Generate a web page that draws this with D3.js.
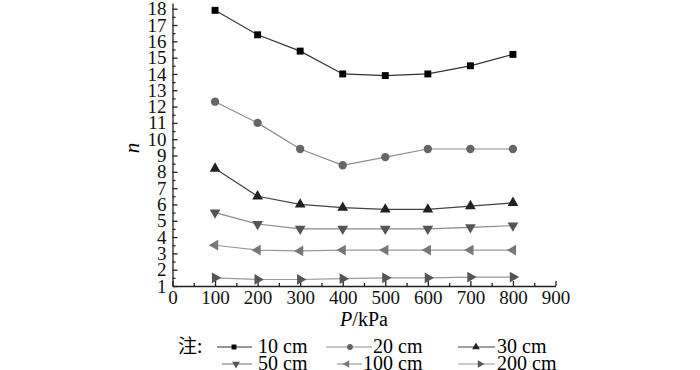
<!DOCTYPE html>
<html>
<head>
<meta charset="utf-8">
<script src="https://cdn.jsdelivr.net/npm/d3@7"></script>
<style>
  body { margin: 0; background: #fff; }
  svg text { font-family: "Liberation Serif", "DejaVu Serif", serif; }
  .axis path, .axis line { stroke: #222; stroke-width: 1.3; }
  .axis text { font-size: 19px; fill: #111; }
</style>
</head>
<body>
<svg width="700" height="370"></svg>
<script>
// pressure values, kPa
var pressure = [100, 200, 300, 400, 500, 600, 700, 800];

var depths = ["10 cm", "20 cm", "30 cm", "50 cm", "100 cm", "200 cm"];

var n10  = [17.9, 16.4, 15.4, 14.0, 13.9, 14.0, 14.5, 15.2];
var n20  = [12.3, 11.0, 9.4, 8.4, 8.9, 9.4, 9.4, 9.4];
var n30  = [8.2, 6.5, 6.0, 5.8, 5.7, 5.7, 5.9, 6.1];
var n50  = [5.5, 4.8, 4.5, 4.5, 4.5, 4.5, 4.6, 4.7];
var n100 = [3.5, 3.2, 3.15, 3.2, 3.2, 3.2, 3.2, 3.2];
var n200 = [1.5, 1.4, 1.4, 1.45, 1.5, 1.5, 1.55, 1.55];

var xTicks = [0, 100, 200, 300, 400, 500, 600, 700, 800, 900];
var yTicks = d3.range(1, 19);

var serif = "'Liberation Serif', 'DejaVu Serif', serif";

var svg = d3.select("svg");

var x = d3.scaleLinear().domain([0, 900]).range([172.5, 555.5]);
var y = d3.scaleLinear().domain([1, 18.35]).range([286, 3]);

// series styles: marker shape, rotation, marker fill, line colour
var styles = [
  {sym: d3.symbolSquare,   rot: 0,   fill: "#000", line: "#333", size: 48},
  {sym: d3.symbolCircle,   rot: 0,   fill: "#666", line: "#8c8c8c", size: 55},
  {sym: d3.symbolTriangle, rot: 0,   fill: "#222", line: "#444", size: 50},
  {sym: d3.symbolTriangle, rot: 180, fill: "#555", line: "#888", size: 50},
  {sym: d3.symbolTriangle, rot: -90, fill: "#777", line: "#9a9a9a", size: 50},
  {sym: d3.symbolTriangle, rot: 90,  fill: "#555", line: "#999", size: 50}
];

var series = [n10, n20, n30, n50, n100, n200];

// axes
svg.append("g").attr("class", "axis")
  .attr("transform", "translate(0," + y(1) + ")")
  .call(d3.axisBottom(x).tickValues(xTicks).tickSizeInner(-5).tickSizeOuter(0).tickPadding(5))
  .attr("font-family", serif);

svg.append("g").attr("class", "axis")
  .attr("transform", "translate(0," + y(1) + ")")
  .call(d3.axisBottom(x).tickValues(d3.range(50, 900, 100)).tickSizeInner(-3).tickSizeOuter(0).tickFormat(""))
  .select("path").remove();

svg.append("g").attr("class", "axis")
  .attr("transform", "translate(" + x(0) + ",0)")
  .call(d3.axisLeft(y).tickValues(yTicks).tickSizeInner(-5).tickSizeOuter(0).tickPadding(6))
  .attr("font-family", serif);

svg.append("g").attr("class", "axis")
  .attr("transform", "translate(" + x(0) + ",0)")
  .call(d3.axisLeft(y).tickValues(d3.range(1.5, 18, 1)).tickSizeInner(-3).tickSizeOuter(0).tickFormat(""))
  .select("path").remove();

svg.selectAll(".axis text").style("font-family", serif);

// axis titles
svg.append("text")
  .attr("transform", "translate(139,148) rotate(-90)")
  .attr("text-anchor", "middle")
  .style("font-family", serif)
  .style("font-size", "21px").style("font-style", "italic")
  .text("n");

var xt = svg.append("text")
  .attr("x", 364).attr("y", 326)
  .attr("text-anchor", "middle")
  .style("font-family", serif)
  .style("font-size", "20px");
xt.append("tspan").style("font-style", "italic").text("P");
xt.append("tspan").text("/kPa");

// lines and markers
var line = d3.line()
  .x(function(d, i) { return x(pressure[i]); })
  .y(function(d) { return y(d); });

series.forEach(function(vals, k) {
  var st = styles[k];
  svg.append("path")
    .attr("d", line(vals))
    .attr("fill", "none")
    .attr("stroke", st.line)
    .attr("stroke-width", 1.2);

  svg.append("g").selectAll("path")
    .data(vals)
    .enter().append("path")
    .attr("d", d3.symbol().type(st.sym).size(st.size))
    .attr("fill", st.fill)
    .attr("transform", function(d, i) {
      return "translate(" + x(pressure[i]) + "," + y(d) + ") rotate(" + st.rot + ")";
    });
});

// legend
var legendPos = [
  {x1: 217, x2: 252, tx: 258, y: 347},
  {x1: 326, x2: 372, tx: 373, y: 347},
  {x1: 458, x2: 495, tx: 497, y: 347},
  {x1: 222, x2: 252, tx: 258, y: 364},
  {x1: 337, x2: 362, tx: 363, y: 364},
  {x1: 458, x2: 495, tx: 497, y: 364}
];
var legendMark = [234, 350, 476, 236, 347, 480];

svg.append("text")
  .attr("x", 178).attr("y", 353)
  .style("font-size", "19px")
  .style("font-family", "'Noto Sans CJK SC', serif")
  .text("注:");

depths.forEach(function(name, k) {
  var p = legendPos[k], st = styles[k];
  svg.append("line")
    .attr("x1", p.x1).attr("x2", p.x2)
    .attr("y1", p.y).attr("y2", p.y)
    .attr("stroke", st.line).attr("stroke-width", 1.2);
  svg.append("path")
    .attr("d", d3.symbol().type(st.sym).size(st.size * 0.5))
    .attr("fill", st.fill)
    .attr("transform", "translate(" + legendMark[k] + "," + p.y + ") rotate(" + st.rot + ")");
  svg.append("text")
    .attr("x", p.tx).attr("y", p.y + 6)
    .style("font-family", serif)
    .style("font-size", "20px")
    .text(name);
});
</script>
</body>
</html>
